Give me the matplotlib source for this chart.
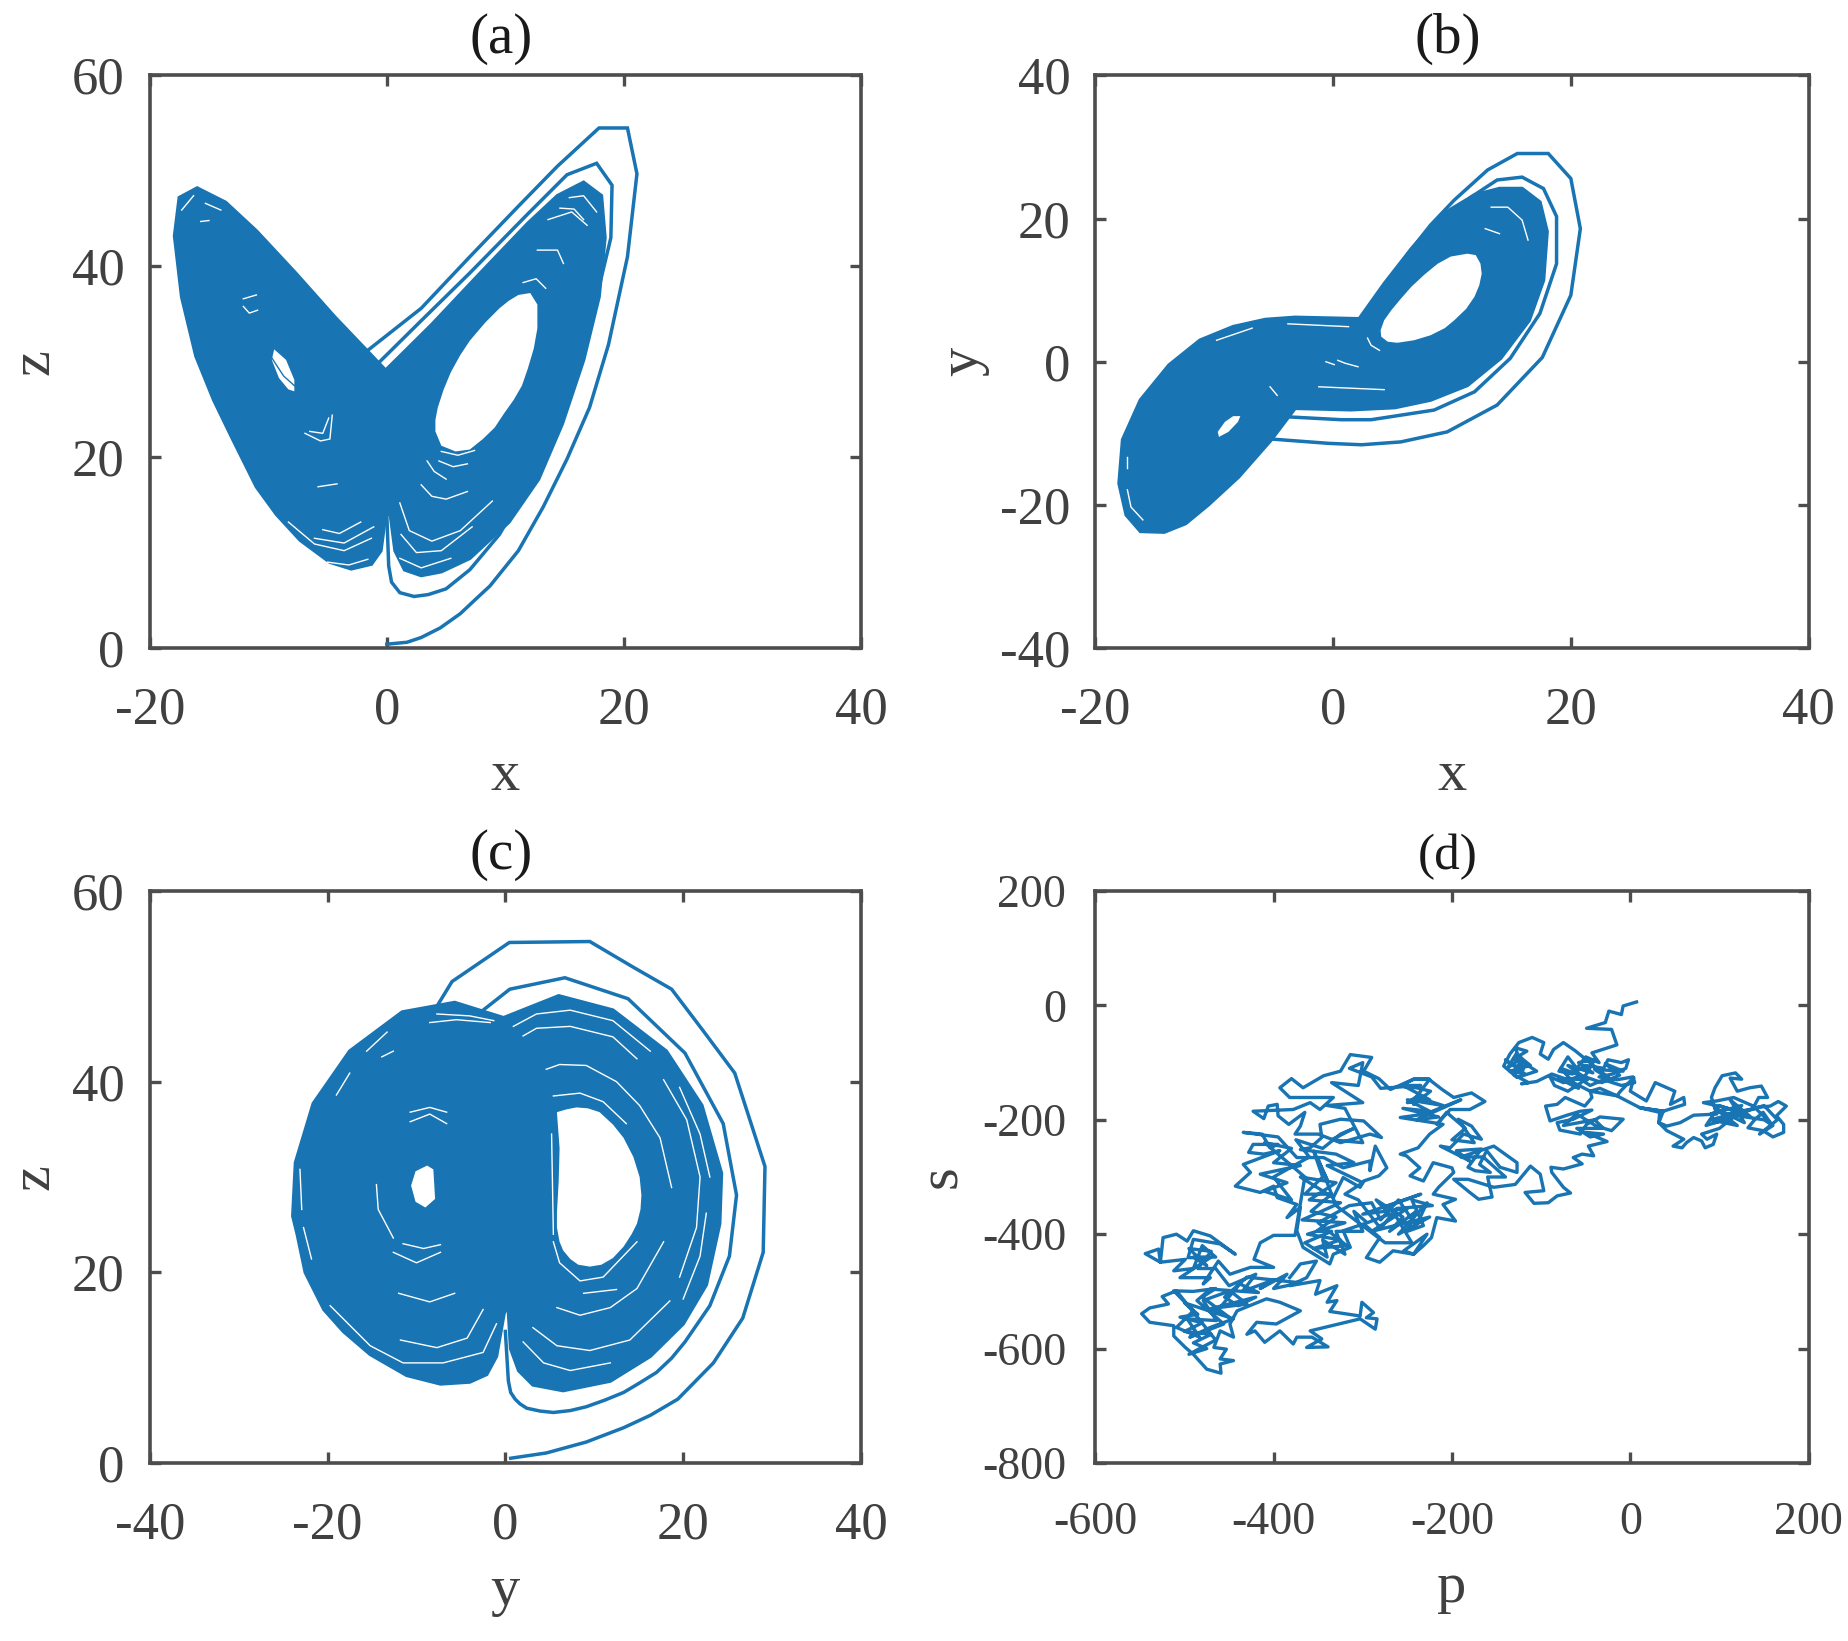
import numpy as np
import matplotlib
matplotlib.use('Agg')
import matplotlib.pyplot as plt

plt.rcParams['font.family'] = ['Liberation Serif', 'DejaVu Sans']
plt.rcParams['axes.unicode_minus'] = False

BLUE = '#1874b2'
GREY = '#4d4d4d'
TEXT = '#404040'

# values

# (a) x-z
a_band_x = [-0.1,-0.5,-1.3,-3,-4.8,-7.3,-9.3,-11,-13,-14.6,-16.1,-17.3,-17.9,-17.5,-16,-13.6,-11,-7.7,-4.4,-0.1,3.8,7.9,11.9,14.4,16.6,18.1,18.4,17.9,16.6,14.8,12.8,10.3,7,4.6,2.9,1.5,0.7,0.3]
a_band_z = [14,10.2,8.8,8.3,9,11.3,14,16.9,21.9,26,30.6,36.8,43.2,47.2,48.2,46.7,43.7,39.3,34.7,29.1,33.9,39.3,44.5,47.4,48.8,47.4,43,36.8,30.2,23.5,17.7,13.2,9.4,8,7.6,8.2,10.2,14]
a_hole1_x = [12.1,12.7,12.7,12.7,12.4,11.9,11.4,10.7,9.9,9.1,8.1,7,5.8,4.6,4.1,4.1,4.3,4.8,5.4,6.2,7,8.3,9.5,10.3,11.1]
a_hole1_z = [37.2,36,34.7,33.5,31.4,29.3,27.5,26,24.6,23.1,21.9,20.8,20.6,21.2,22.7,23.9,25.2,27.1,28.9,30.7,32.2,34.1,35.6,36.4,37]
a_hole2_x = [-9.5,-8.5,-7.8,-7.8,-8.3,-9.1,-9.7]
a_hole2_z = [31.3,30.2,28.1,26.9,27.1,28.3,30.2]
a_slit = [(-9.7,30.4),(-8.7,28.5),(-7.8,27.5)]
a_outer_x = [0,1.7,2.9,4.5,6.2,7.4,8.7,11.1,13.2,15.2,17.1,18.7,20.3,21.1,20.3,17.9,14.4,11.1,7,2.9,-1.6]
a_outer_z = [0.4,0.6,1.1,2.1,3.6,5,6.5,10.2,14.8,19.8,25.2,31.8,41,49.7,54.5,54.5,50.5,46.3,41,35.6,31.2]
a_second_x = [0,0.16,0.4,1.1,2.3,3.5,5,7,9.5,12.4,14.8,17.3,18.9,19,17.7,15.2,11.9,7,2.9,-0.6]
a_second_z = [14,8.6,6.9,5.8,5.4,5.6,6.2,8.2,11.9,18.1,25.2,34.7,43,48.5,50.8,49.6,45.5,39.3,34.3,30]
a_gaps = [
    [(3.4,19.6),(4,18.5),(5,17.7)],
    [(2.9,17.1),(3.8,15.9),(5,15.6),(6.8,16.4)],
    [(1.1,15.2),(1.9,12.3),(3.8,11.2),(6.2,12.3),(8.9,15.4)],
    [(1.2,11.9),(2.5,10),(4.6,10.2),(7.2,12.7)],
    [(1.1,9.4),(2.9,8.4),(5.4,9.4)],
    [(4.6,20.6),(6,20.2),(7.4,20.7)],
    [(4.4,19.6),(5.6,19),(6.8,19.3)],
    [(12.7,41.7),(14.4,41.7),(14.9,40.3)],
    [(11.5,38.3),(12.6,38.7),(13.4,37.7)],
    [(13.6,44.9),(15.6,45.7),(16.9,44.3)],
    [(14.6,46.1),(15.8,46),(16.6,44.9)],
    [(15.4,47.2),(16.6,47.4),(17.7,45.7)],
    [(-8.3,13.2),(-6.1,10.9),(-3.6,10.2),(-1.3,11.5)],
    [(-5.4,12.4),(-4,12),(-2.2,13.2)],
    [(-6.1,11.5),(-3.6,11),(-1.1,12.7)],
    [(-5,9),(-3.2,8.7),(-1.6,9.3)],
    [(-6.9,22.5),(-5.6,21.7),(-4.8,21.9),(-4.6,24.4)],
    [(-6.5,22.7),(-5.4,22.5),(-4.9,24.1)],
    [(-5.8,16.9),(-4.2,17.2)],
    [(-12.1,35.8),(-11.6,35.1),(-10.9,35.4)],
    [(-12.1,36.6),(-11,37)],
    [(-17.3,45.9),(-16.3,47.4)],
    [(-15.7,44.7),(-15,44.8)],
    [(-15.3,46.6),(-14,45.9)],
]

# (b) x-y
b_band_x = [-16.2,-17.4,-18,-17.7,-16.2,-13.8,-11.2,-8.4,-5.7,-3.2,2.2,4.3,6.6,9.1,11.9,14,15.9,17.4,18,17.7,16.5,14.1,11.3,8.2,5.2,1.5,-3.2,-5.2,-7.95,-10.5,-12.4,-14.2]
b_band_y = [-23.7,-21.4,-17,-10.9,-5.35,-0.47,3,4.9,5.9,6.2,6,10.9,15.8,20.5,23.3,24.2,24.2,22.3,18.2,11.4,5.8,0.5,-3.3,-5.35,-6.4,-6.7,-6.5,-10.9,-16.1,-20,-22.6,-23.8]
b_hole1_x = [11.3,12,12.4,12.5,12.3,11.9,11.2,10.2,9.4,8.2,6.8,5.4,4.6,4.05,4,4.3,4.9,5.7,6.6,7.7,8.8,9.9]
b_hole1_y = [15.1,14.9,13.7,12.3,10.7,9.1,7.4,5.8,4.7,3.7,3,2.65,2.8,3.5,4.4,5.8,7.2,8.8,10.5,12.2,13.7,14.7]
b_hole2_x = [-7.8,-8,-8.8,-9.6,-9.7,-9.1,-8.4]
b_hole2_y = [-7.6,-8.4,-9.8,-10.5,-9.8,-8.4,-7.6]
b_outer_x = [-5.2,-0.4,2.4,5.7,9.6,13.8,17.6,20,20.8,20,18.1,15.5,13,10.2,8.2,6.3]
b_outer_y = [-10.8,-11.4,-11.6,-11.2,-9.8,-6.05,0.6,9.3,18.6,25.6,29.1,29.1,26.8,22.6,19.1,15.1]
b_second_x = [-3.8,0.7,3.2,8.5,11.9,14.9,17.4,18.8,18.8,17.7,15.9,13.8,11.6,9.4,6.8]
b_second_y = [-7.7,-8.1,-8.1,-6.75,-4.2,0.47,6.75,13.7,20.3,24.2,25.8,25.4,23,19.3,15.4]
b_gaps = [
    [(-1.2,-3.5),(4.3,-3.9)],
    [(-3.8,5.3),(1.3,4.9)],
    [(13.3,21.6),(14.7,21.6),(15.9,19.8),(16.4,17)],
    [(0.4,0.2),(1,-0.2),(2.1,-0.7)],
    [(2.9,3.3),(3.2,2.3),(3.9,1.6)],
    [(-5.3,-3.5),(-4.7,-4.7)],
    [(-0.6,0),(0.1,-0.4)],
    [(12.8,18.6),(14,17.9)],
    [(-9.8,3),(-6.8,4.7)],
    [(-17.3,-17.9),(-17,-20.3),(-16,-22.1)],
    [(-17.3,-13.3),(-17.3,-14.9)],
]

# (c) y-z
c_band_y = [-0.15,-1,-2.1,-4,-7.3,-11.1,-15.2,-18.2,-20.4,-22.5,-23.4,-23.9,-23.6,-21.6,-17.5,-11.6,-5.7,-0.2,6,12.1,18.1,22.1,24.3,24.1,22.6,20,16.3,11.8,6.5,3.1,1.5,0.6,0.3]
c_band_z = [15.7,11.2,9.3,8.5,8.3,9.2,11.4,13.8,16.1,20,24,25.9,31.5,37.7,43.2,47.3,48.3,46.7,49,47.5,43.2,37.5,30.4,25.1,18.7,14.6,11.2,8.6,7.6,8.2,9.7,12,16.7]
c_hole1_y = [5.8,6.9,8,9.3,10.6,12.1,13.3,14.4,15.1,15.3,15.2,14.8,14.2,13.3,12.1,10.8,9.5,8.2,7.3,6.5,6.1,5.8,5.8,6,6.1]
c_hole1_z = [36.8,37.1,37.3,37.2,36.8,35.5,34.1,32.1,30,28.1,26.6,25.1,24,22.7,21.5,20.8,20.6,20.8,21.4,22.3,23.2,24.7,26.2,29.6,33]
c_hole2_y = [-8.8,-8.1,-7.9,-9,-10.1,-10.6,-10.1]
c_hole2_z = [31.2,30.8,27.7,26.8,27.4,29.1,30.6]
c_outer_y = [0.6,4.6,9.1,13.3,16.3,19.4,23.4,26.7,29,29.2,25.8,22.2,18.7,14.4,9.5,0.45,-6,-7.7]
c_outer_z = [0.5,1.05,2.2,3.7,5,6.7,10.5,15.2,22.1,31.1,40.9,45.4,49.7,52,54.7,54.6,50.5,47.9]
c_second_y = [0,0.34,0.6,1.1,1.65,2.4,3.9,5.4,7.3,9.1,11.2,13.3,15.1,17,18.7,20.2,23,25.2,26,24.5,20.2,13.8,6.7,0.5,-2.5]
c_second_z = [13.8,8.6,7.4,6.7,6.2,5.75,5.45,5.3,5.5,5.9,6.6,7.4,8.4,9.5,11,12.7,16.5,21.7,28.1,35.6,43,48.7,50.9,49.7,47.5]
c_gaps = [
    [(4.6,41.3),(6.1,41.8),(9.1,41.7),(12.5,40),(15.1,37.5),(17.4,34.1),(18.7,28.9)],
    [(5.4,38.5),(8.4,38.8),(11,37.9),(13.6,35.6)],
    [(5.8,16.3),(8.4,15.5),(11.8,16.3),(14.8,18.3),(17.8,23.2)],
    [(3.1,14.2),(5.8,12.3),(9.5,11.8),(14,12.9),(18.5,17)],
    [(2,12.7),(4.3,10.5),(7.3,9.7),(11.8,10.5)],
    [(-11.8,12.9),(-7.7,12.1),(-4.3,13.1),(-2.5,16.1)],
    [(-19.7,16.5),(-15.2,12.3),(-11.5,10.5),(-7,10.5),(-2.5,11.6),(-1,14.6)],
    [(-10.7,36.8),(-8.5,37.3),(-6.6,36.8)],
    [(-10.7,35.8),(-8.5,36.6),(-6.6,35.6)],
    [(-11.5,23),(-9.2,22.5),(-7.3,22.9)],
    [(-12.6,22.1),(-10,21),(-7.3,22.1)],
    [(-14.5,29.2),(-14.3,26.6),(-12.6,23.6)],
    [(-8.5,46.2),(-5.5,46.5),(-1.7,46.2)],
    [(-7.7,47.1),(-4,46.9),(-1.3,46.4)],
    [(-13.9,42.6),(-12.6,43.2)],
    [(2,44.8),(3.5,45.6),(7.3,45.8),(12.1,44.7),(14.8,42.4)],
    [(0.9,45.8),(3.5,47.1),(7.3,47.5),(12.1,46.4),(16.3,43.2)],
    [(19.6,39.4),(21.9,34.5),(23,30)],
    [(22.6,26.2),(21.9,21.7),(20,17.2)],
    [(-23.1,30.8),(-22.9,26.6)],
    [(-22.7,24.7),(-21.8,21.4)],
    [(-19,38.6),(-17.5,40.9)],
    [(-15.6,43.2),(-13.3,45.2)],
    [(8.8,17.8),(12.5,18.2)],
    [(-12,17.8),(-8.5,16.9),(-5.7,17.8)],
    [(17.8,40.2),(20.4,36),(21.9,30),(21.5,24.7),(19.6,19.5)],
    [(5.4,23.2),(6.1,21),(8.4,19.1),(11,19.5),(14.8,23.2)],
    [(5.2,34.5),(5.4,24)],
]

# (d) p-s, one walk read stretch by stretch
walk_start = [(7,6),(-8,-1),(-10,-16),(-24,-10),(-28,-30),(-49,-40),(-21,-42),(-15,-69),(-43,-83)]
walk_top = [(-35,-100),(-50,-90),(-60,-110),(-70,-90),(-80,-115),(-65,-120),(-50,-105),(-30,-110),(-25,-95),(-10,-100),(-2,-95),(-5,-110),(-20,-120),(-35,-125),(-15,-130),(3,-125),(5,-135),(-10,-140),(-30,-130),(-45,-140),(-60,-125),(-75,-135),(-90,-125),(-85,-140),(-70,-150),(-55,-135)]
walk_top2 = [(-40,-95),(-58,-100),(-42,-118),(-70,-105),(-48,-130),(-80,-128),(-58,-145),(-78,-110),(-32,-135),(-12,-122),(-28,-102),(-8,-115),(-40,-112),(-20,-132),(-62,-79),(-75,-65),(-86,-77),(-92,-94),(-101,-85),(-97,-65)]
walk_blob = [(-110,-56),(-125,-65),(-135,-85),(-142,-106),(-127,-126),(-105,-115),(-120,-100),(-131,-94),(-116,-80),(-129,-74),(-120,-112),(-136,-100),(-140,-95),(-118,-120),(-135,-115),(-112,-105),(-128,-85),(-138,-110),(-122,-92),(-130,-122),(-114,-135),(-122,-137),(-105,-133),(-88,-120),(-70,-130),(-45,-150)]
walk_east = [(-34,-145),(-15,-158),(-11,-150),(4,-126),(0,-150),(18,-167),(28,-135),(50,-150),(45,-173),(60,-161),(61,-173),(37,-185),(11,-179),(33,-187),(32,-205),(41,-211),(56,-205),(71,-192),(97,-190)]
walk_right = [(91,-161),(95,-144),(103,-123),(118,-118),(125,-129),(112,-127),(120,-150),(134,-144),(147,-141),(154,-161),(144,-161),(138,-179),(157,-176),(166,-168),(175,-176),(164,-193),(172,-208),(172,-222),(160,-230),(149,-219),(132,-214),(140,-199),(149,-187),(157,-205),(138,-176),(116,-161),(97,-167),(82,-170),(110,-180),(90,-190),(125,-175),(105,-200),(128,-185),(95,-205),(115,-195),(85,-210)]
walk_right2 = [(100,-175),(135,-195),(112,-165),(128,-205),(95,-180),(120,-210),(90,-200),(140,-180),(108,-190),(150,-200),(160,-210),(145,-225),(165,-200),(150,-175),(120,-190),(100,-215)]
walk_back = [(80,-225),(86,-234),(97,-225),(93,-243),(84,-249),(80,-237),(71,-231),(63,-240),(58,-249),(48,-246),(60,-234),(41,-219),(32,-205),(37,-185),(11,-179),(-15,-158),(-45,-150)]
walk_mid = [(-43,-161),(-51,-176),(-73,-161),(-82,-173),(-95,-176),(-90,-202),(-71,-192),(-56,-185),(-43,-183),(-64,-199),(-82,-205),(-79,-218),(-56,-225),(-49,-208),(-34,-195),(-8,-199),(-21,-219),(-38,-211),(-60,-190),(-75,-210),(-40,-200),(-30,-215),(-60,-215),(-45,-230),(-30,-225),(-50,-222),(-26,-238),(-47,-246),(-41,-263),(-54,-260),(-64,-266),(-54,-277),(-75,-286),(-89,-283),(-88,-292)]
walk_low = [(-75,-318),(-67,-328),(-82,-333),(-92,-345),(-108,-346),(-118,-327),(-97,-324),(-101,-295),(-112,-281),(-129,-313),(-153,-318),(-182,-304),(-198,-304),(-180,-327),(-170,-339),(-155,-335),(-160,-300),(-140,-300),(-165,-265),(-190,-265),(-153,-246),(-127,-275),(-127,-292),(-146,-283),(-161,-254),(-169,-278),(-157,-292),(-174,-289),(-182,-283),(-167,-251),(-195,-254),(-180,-272),(-213,-246),(-202,-249),(-187,-225),(-167,-234),(-178,-211),(-193,-199),(-175,-240),(-200,-235),(-185,-215),(-206,-187),(-217,-208)]
walk_ring = [(-202,-182),(-180,-182),(-163,-168),(-178,-153),(-198,-161),(-211,-147),(-226,-129),(-243,-129),(-258,-141),(-240,-144),(-224,-150),(-243,-173),(-240,-160),(-210,-175),(-250,-165),(-225,-185),(-255,-180),(-215,-195),(-240,-200),(-190,-165),(-230,-190),(-258,-196),(-221,-205),(-210,-208),(-225,-225),(-238,-249),(-258,-260),(-251,-263),(-236,-284),(-247,-298),(-232,-307),(-221,-275),(-200,-284),(-198,-292),(-215,-318),(-221,-330),(-196,-339),(-210,-348),(-196,-377),(-217,-371),(-223,-406),(-232,-420),(-243,-435),(-254,-429)]
walk_dense = [(-228,-400),(-243,-435),(-266,-429),(-281,-449),(-296,-441),(-281,-406),(-299,-382),(-322,-394),(-314,-423),(-333,-435),(-337,-452),(-367,-423),(-374,-394),(-370,-353),(-385,-371),(-374,-348),(-396,-336),(-400,-316),(-415,-327),(-443,-316),(-426,-292),(-434,-278),(-393,-254),(-411,-260),(-428,-257),(-423,-243),(-395,-243),(-404,-249),(-413,-225),(-434,-222),(-395,-230),(-374,-266),(-344,-266),(-322,-284),(-292,-272),(-292,-289),(-286,-246),(-273,-284),(-282,-298),(-299,-307),(-303,-318),(-322,-301),(-333,-336),(-370,-300),(-330,-310),(-360,-340),(-325,-345),(-368,-375),(-320,-380),(-362,-400),(-325,-410),(-355,-425),(-318,-420),(-350,-380),(-315,-350),(-290,-345),(-280,-375),(-260,-340),(-240,-385),(-228,-345),(-260,-400),(-225,-370),(-290,-395),(-250,-355),(-300,-365),(-235,-330),(-270,-350),(-245,-415),(-275,-415),(-330,-350),(-350,-270),(-340,-305),(-355,-255)]
walk_dense2 = [(-345,-300),(-365,-330),(-335,-330),(-358,-360),(-330,-370),(-352,-395),(-335,-395),(-365,-415),(-340,-440),(-345,-410),(-320,-435),(-330,-395),(-300,-395),(-310,-360),(-295,-380),(-270,-365),(-285,-340),(-255,-370),(-270,-395),(-240,-360),(-250,-395),(-232,-385),(-245,-340),(-222,-350),(-262,-355),(-280,-390),(-305,-340),(-320,-330),(-300,-310),(-340,-280),(-310,-275),(-330,-260)]
walk_north = [(-370,-252),(-359,-249),(-346,-231),(-348,-208),(-325,-199),(-299,-202),(-279,-231),(-292,-225),(-325,-240),(-350,-225),(-376,-225),(-370,-211),(-365,-187),(-383,-208),(-395,-193),(-396,-173),(-406,-176),(-411,-198),(-423,-185),(-378,-182),(-359,-170),(-348,-182),(-333,-161),(-382,-161),(-393,-144),(-380,-128),(-367,-144),(-344,-123),(-325,-115),(-314,-86),(-290,-91),(-299,-115),(-282,-128),(-269,-147),(-243,-129),(-225,-129),(-240,-160)]
walk_north2 = [(-250,-170),(-225,-165),(-255,-140),(-235,-140),(-280,-145),(-290,-125),(-315,-110),(-300,-100),(-305,-140),(-335,-135),(-300,-170),(-340,-175),(-320,-180),(-300,-240),(-335,-235),(-310,-215),(-325,-225),(-345,-250),(-375,-235),(-360,-265),(-400,-300),(-380,-340),(-410,-325),(-385,-310),(-415,-295),(-370,-280),(-400,-275),(-380,-250),(-410,-240),(-365,-300),(-376,-402)]
walk_link = [(-400,-402),(-415,-415),(-422,-444)]
walk_left = [(-400,-458),(-426,-458),(-449,-470),(-462,-447),(-479,-487),(-471,-476),(-505,-476),(-471,-441),(-496,-441),(-490,-409),(-460,-417),(-443,-435),(-471,-403),(-490,-394),(-497,-412),(-509,-400),(-524,-406),(-527,-449),(-529,-426),(-544,-434),(-527,-449),(-499,-444),(-512,-464),(-490,-460)]
walk_left2 = [(-480,-420),(-465,-440),(-490,-440),(-475,-455),(-495,-425),(-470,-430),(-485,-460),(-465,-460),(-450,-490),(-420,-470),(-435,-500),(-400,-480),(-415,-495),(-385,-470),(-400,-495),(-370,-485),(-430,-475),(-455,-510),(-440,-525),(-420,-510),(-470,-530),(-450,-545),(-480,-510),(-465,-495),(-490,-500)]
walk_knot = [(-512,-499),(-490,-534),(-509,-563),(-483,-580),(-497,-548),(-464,-551),(-479,-516),(-449,-499),(-430,-522),(-460,-528),(-438,-487),(-417,-502),(-471,-496),(-486,-516),(-456,-557),(-494,-580),(-471,-563),(-445,-548),(-500,-520),(-485,-540),(-505,-545),(-480,-555),(-500,-570),(-470,-575),(-490,-590),(-475,-600),(-495,-610),(-465,-585),(-509,-499),(-525,-509),(-518,-522),(-539,-529),(-548,-539),(-539,-554),(-512,-560),(-512,-578),(-499,-598),(-490,-610),(-475,-636),(-459,-643),(-460,-627),(-445,-621),(-460,-618),(-453,-601),(-467,-598),(-460,-569),(-445,-580),(-449,-557),(-441,-534)]
walk_end = [(-408,-513),(-393,-519),(-370,-534),(-397,-557),(-419,-554),(-430,-575),(-421,-569),(-410,-589),(-393,-569),(-378,-592),(-374,-580),(-357,-580),(-339,-597),(-363,-598),(-346,-583),(-359,-569),(-303,-548),(-286,-566),(-284,-548),(-296,-546),(-288,-537),(-301,-519),(-303,-543),(-337,-535),(-329,-516),(-340,-519),(-329,-490),(-353,-505),(-348,-481),(-382,-490),(-363,-476),(-352,-447),(-370,-452),(-382,-476)]

# tick labels
ticks_a_x = [-20, 0, 20, 40]
ticks_a_y = [0, 20, 40, 60]
ticks_b_y = [-40, -20, 0, 20, 40]
ticks_c_x = [-40, -20, 0, 20, 40]
ticks_d_x = [-600, -400, -200, 0, 200]
ticks_d_y = [-800, -600, -400, -200, 0, 200]

W, H = 1849, 1641
fig = plt.figure(figsize=(W / 100, H / 100), dpi=100)


def make_axes(left, top, right, bottom, xticks, yticks, title, xlabel, ylabel, size=38, tsize=41,
              ypad=18, xlabelpad=11, ylabelpad=8):
    ax = fig.add_axes([left / W, 1 - bottom / H, (right - left) / W, (bottom - top) / H])
    ax.set_xlim(xticks[0], xticks[-1])
    ax.set_ylim(yticks[0], yticks[-1])
    ax.set_xticks(xticks)
    ax.set_yticks(yticks)
    ax.tick_params(direction='in', length=8, width=2.4, color=GREY, top=True, right=True,
                   labelsize=size, labelcolor=TEXT)
    ax.tick_params(axis='x', pad=28)
    ax.tick_params(axis='y', pad=ypad)
    for sp in ax.spines.values():
        sp.set_linewidth(2.6)
        sp.set_color(GREY)
    ax.set_title(title, fontsize=tsize, color='#1a1a1a', pad=16, x=0.494)
    ax.set_xlabel(xlabel, fontsize=42, color=TEXT, labelpad=xlabelpad)
    ax.set_ylabel(ylabel, fontsize=42, color=TEXT, labelpad=ylabelpad)
    return ax


def draw_attractor(ax, band, holes, lines, gaps):
    ax.fill(band[0], band[1], color=BLUE, lw=2.6)
    for line in lines:
        ax.plot(line[0], line[1], color=BLUE, lw=2.5, solid_joinstyle='miter')
    for hole in holes:
        ax.fill(hole[0], hole[1], color='white', lw=0)
    for gap in gaps:
        g = np.array(gap)
        ax.plot(g[:, 0], g[:, 1], color='white', lw=1.0)


ax_a = make_axes(149.7, 75.5, 861, 648, ticks_a_x, ticks_a_y, '(a)', 'x', 'z')
draw_attractor(ax_a, (a_band_x, a_band_z), [(a_hole1_x, a_hole1_z), (a_hole2_x, a_hole2_z)],
               [(a_outer_x, a_outer_z), (a_second_x, a_second_z)], a_gaps)
slit = np.array(a_slit)
ax_a.plot(slit[:, 0], slit[:, 1], color=BLUE, lw=1.0)

ax_b = make_axes(1095.3, 75.5, 1808.6, 648, ticks_a_x, ticks_b_y, '(b)', 'x', 'y')
draw_attractor(ax_b, (b_band_x, b_band_y), [(b_hole1_x, b_hole1_y), (b_hole2_x, b_hole2_y)],
               [(b_outer_x, b_outer_y), (b_second_x, b_second_y)], b_gaps)

ax_c = make_axes(149.7, 891, 861, 1463, ticks_c_x, ticks_a_y, '(c)', 'y', 'z')
draw_attractor(ax_c, (c_band_y, c_band_z), [(c_hole1_y, c_hole1_z), (c_hole2_y, c_hole2_z)],
               [(c_outer_y, c_outer_z), (c_second_y, c_second_z)], c_gaps)

ax_d = make_axes(1095.3, 891, 1808.6, 1463, ticks_d_x, ticks_d_y, '(d)', 'p', 's', size=33, tsize=37,
                 ypad=21, xlabelpad=13, ylabelpad=10)
walk = np.array(walk_start + walk_top + walk_top2 + walk_blob + walk_east + walk_right + walk_right2
                + walk_back + walk_mid + walk_low + walk_ring + walk_dense + walk_dense2
                + walk_north + walk_north2 + walk_link + walk_left + walk_left2 + walk_knot
                + walk_end)
ax_d.plot(walk[:, 0], walk[:, 1], color=BLUE, lw=2.4)

fig.savefig('out.png', dpi=100)
